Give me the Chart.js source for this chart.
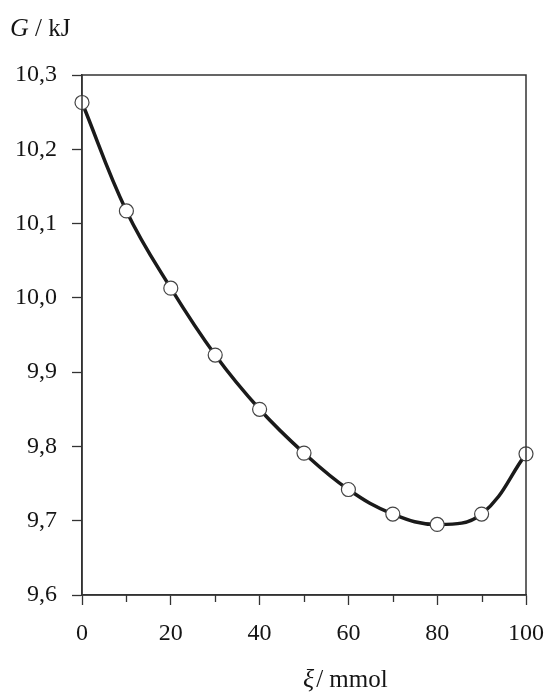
<!DOCTYPE html>
<html><head><meta charset="utf-8">
<script src="https://cdn.jsdelivr.net/npm/chart.js@4"></script>
<style>html,body{margin:0;padding:0;background:#fff}</style>
</head><body>
<canvas id="c" width="547" height="693"></canvas>
<script>
const xi = [0, 10, 20, 30, 40, 50, 60, 70, 80, 90, 100];
const G = [10.263, 10.117, 10.013, 9.923, 9.850, 9.791, 9.742, 9.709, 9.695, 9.709, 9.790];
const yTicks = [9.6, 9.7, 9.8, 9.9, 10.0, 10.1, 10.2, 10.3];
const xTicks = [0, 10, 20, 30, 40, 50, 60, 70, 80, 90, 100];
const xTickLabels = [0, 20, 40, 60, 80, 100];
const yTitle = ['G', ' / kJ'];
const xTitle = ['\u03BE', '/ mmol'];

const FONT = '"Liberation Serif", "Times New Roman", serif';
const INK = '#151515';

const framePlugin = {
  id: 'frame',
  afterDraw(chart) {
    const ctx = chart.ctx, a = chart.chartArea, xs = chart.scales.x;
    ctx.save();
    ctx.strokeStyle = '#333';
    ctx.lineWidth = 1.5;
    ctx.strokeRect(a.left, a.top, a.right - a.left, a.bottom - a.top);
    // minor x ticks (shorter)
    ctx.lineWidth = 1.3;
    xTicks.forEach(v => {
      if (!xTickLabels.includes(v)) {
        const px = Math.round(xs.getPixelForValue(v)) + 0.5;
        ctx.beginPath(); ctx.moveTo(px, a.bottom); ctx.lineTo(px, a.bottom + 7); ctx.stroke();
      }
    });
    // titles with mixed styles
    ctx.fillStyle = INK;
    ctx.textBaseline = 'alphabetic';
    ctx.textAlign = 'left';
    let x = 10;
    ctx.font = 'italic 26px ' + FONT;
    ctx.fillText(yTitle[0], x, 36);
    x += ctx.measureText(yTitle[0]).width;
    ctx.font = '25px ' + FONT;
    ctx.fillText(yTitle[1], x, 36);
    x = 303;
    ctx.font = 'italic 26px ' + FONT;
    ctx.fillText(xTitle[0], x, 687);
    x += ctx.measureText(xTitle[0]).width + 2;
    ctx.font = '25px ' + FONT;
    ctx.fillText(xTitle[1], x, 687);
    ctx.restore();
  }
};

new Chart(document.getElementById('c'), {
  type: 'line',
  data: {
    datasets: [{
      data: xi.map((v, i) => ({ x: v, y: G[i] })),
      borderColor: '#1a1a1a',
      borderWidth: 3.5,
      tension: 0.4,
      pointRadius: 7,
      pointBackgroundColor: '#fff',
      pointBorderColor: '#444',
      pointBorderWidth: 1.2,
      clip: false
    }]
  },
  options: {
    responsive: false,
    animation: false,
    layout: { padding: { top: 75, right: 21, left: 0, bottom: 0 } },
    plugins: { legend: { display: false }, tooltip: { enabled: false }, title: { display: false } },
    scales: {
      x: {
        type: 'linear', min: 0, max: 100,
        afterBuildTicks: s => { s.ticks = xTicks.map(v => ({ value: v })); },
        afterFit: s => { s.height = 98; s.paddingLeft = 0; s.paddingRight = 0; },
        ticks: {
          autoSkip: false, maxRotation: 0, padding: 14, color: INK,
          font: { family: FONT, size: 24 },
          callback: v => xTickLabels.includes(v) ? String(v) : ''
        },
        grid: {
          drawOnChartArea: false, drawTicks: true, tickLength: 10, tickWidth: 1.3,
          tickColor: c => (c.tick && xTickLabels.includes(c.tick.value)) ? '#333' : 'rgba(0,0,0,0)'
        },
        border: { display: true, color: '#333', width: 1.5 }
      },
      y: {
        type: 'linear', min: 9.6, max: 10.3,
        afterBuildTicks: s => { s.ticks = yTicks.map(v => ({ value: v })); },
        afterFit: s => { s.width = 82; s.paddingTop = 0; s.paddingBottom = 0; },
        ticks: {
          autoSkip: false, padding: 15, color: INK,
          font: { family: FONT, size: 24 },
          callback: v => v.toFixed(1).replace('.', ',')
        },
        grid: { drawOnChartArea: false, drawTicks: true, tickLength: 10, tickWidth: 1.3, tickColor: '#333' },
        border: { display: true, color: '#333', width: 1.5 }
      }
    }
  },
  plugins: [framePlugin]
});
</script>
</body></html>
